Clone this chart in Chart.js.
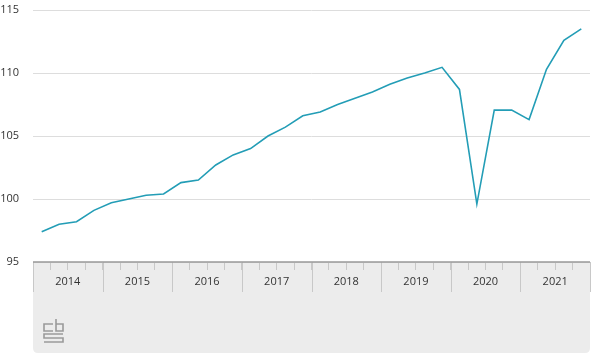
<!DOCTYPE html>
<html>
<head>
<meta charset="utf-8">
<script src="https://cdn.jsdelivr.net/npm/chart.js@4/dist/chart.umd.min.js"></script>
<style>
html,body{margin:0;padding:0;background:#fff;}
#wrap{width:600px;height:362px;position:relative;}
</style>
</head>
<body>
<div id="wrap"><canvas id="c" width="600" height="362"></canvas></div>
<script>
const years = ['2014','2015','2016','2017','2018','2019','2020','2021'];
const quarters = ['1e kwartaal','2e kwartaal','3e kwartaal','4e kwartaal'];
const values = [
  97.4, 98.0, 98.2, 99.1,
  99.7, 100.0, 100.3, 100.4,
  101.3, 101.5, 102.7, 103.5,
  104.0, 105.0, 105.7, 106.6,
  106.9, 107.5, 108.0, 108.5,
  109.1, 109.6, 110.0, 110.45,
  108.7, 99.6, 107.05, 107.05,
  106.3, 110.3, 112.6, 113.5
];
const yTicks = [95, 100, 105, 110, 115];

const labels = [];
years.forEach(y => quarters.forEach(q => labels.push(y + ' ' + q)));

const bgPlugin = {
  id: 'bg',
  beforeDraw(chart) {
    const {ctx, chartArea} = chart;
    const x0 = chartArea.left, x1 = chartArea.right, y0 = chartArea.bottom, y1 = 353, r = 5;
    ctx.save();
    ctx.fillStyle = '#ececec';
    ctx.beginPath();
    ctx.moveTo(x0, y0);
    ctx.lineTo(x1, y0);
    ctx.lineTo(x1, y1 - r);
    ctx.quadraticCurveTo(x1, y1, x1 - r, y1);
    ctx.lineTo(x0 + r, y1);
    ctx.quadraticCurveTo(x0, y1, x0, y1 - r);
    ctx.closePath();
    ctx.fill();
    ctx.restore();
  },
  afterDraw(chart) {
    const {ctx, chartArea} = chart;
    const xs = chart.scales.x;
    const n = labels.length;
    const step = (chartArea.right - chartArea.left) / n;
    ctx.save();
    ctx.strokeStyle = '#c8c8c8';
    ctx.lineWidth = 1;
    for (let i = 0; i <= n; i += 4) {
      const px = Math.round((i < n ? xs.getPixelForValue(i) : xs.getPixelForValue(n - 1) + step) - step / 2) + 0.5;
      ctx.beginPath();
      ctx.moveTo(px, chartArea.bottom);
      ctx.lineTo(px, chartArea.bottom + 30);
      ctx.stroke();
    }
    ctx.strokeStyle = '#999';
    ctx.lineWidth = 1.5;
    ctx.beginPath();
    ctx.moveTo(chartArea.left, chartArea.bottom);
    ctx.lineTo(chartArea.right, chartArea.bottom);
    ctx.stroke();
    // cbs logo
    ctx.strokeStyle = '#9a9a9a';
    ctx.lineWidth = 1.6;
    const lx = 44, ly = 319;
    ctx.beginPath();
    ctx.moveTo(lx + 9, ly + 5); ctx.lineTo(lx, ly + 5); ctx.lineTo(lx, ly + 12); ctx.lineTo(lx + 9, ly + 12);
    ctx.moveTo(lx + 12, ly); ctx.lineTo(lx + 12, ly + 12); ctx.lineTo(lx + 19, ly + 12); ctx.lineTo(lx + 19, ly + 5); ctx.lineTo(lx + 12, ly + 5);
    ctx.moveTo(lx + 19, ly + 15); ctx.lineTo(lx, ly + 15); ctx.lineTo(lx, ly + 19); ctx.lineTo(lx + 19, ly + 19); ctx.lineTo(lx + 19, ly + 23); ctx.lineTo(lx, ly + 23);
    ctx.stroke();
    ctx.restore();
  }
};

new Chart(document.getElementById('c'), {
  type: 'line',
  data: {
    labels: labels,
    datasets: [{
      data: values,
      borderColor: '#239db6',
      borderWidth: 1.6,
      pointRadius: 0,
      tension: 0,
      fill: false
    }]
  },
  options: {
    responsive: false,
    animation: false,
    layout: {padding: {top: 10, right: 10, left: 0, bottom: 0}},
    plugins: {legend: {display: false}, tooltip: {enabled: false}},
    scales: {
      x: {
        offset: true,
        afterFit(scale) { scale.height = 100; scale.paddingTop = 0; scale.paddingBottom = 0; },
        grid: {
          offset: true,
          drawOnChartArea: false,
          drawTicks: true,
          tickLength: 8,
          tickColor: '#c8c8c8',
          color: '#c8c8c8'
        },
        border: {display: false},
        ticks: {
          autoSkip: false,
          maxRotation: 0,
          minRotation: 0,
          padding: 5,
          labelOffset: 8.7,
          color: '#333',
          font: {family: 'Open Sans', size: 11},
          callback: (v, i) => (i % 4 === 1 ? years[Math.floor(i / 4)] : '')
        }
      },
      y: {
        min: 95,
        max: 115,
        afterFit(scale) { scale.width = 33; scale.paddingTop = 0; scale.paddingBottom = 0; },
        afterBuildTicks(scale) { scale.ticks = yTicks.map(v => ({value: v})); },
        grid: {color: '#dddddd', lineWidth: 1, drawTicks: false},
        border: {display: false},
        ticks: {
          padding: 14,
          color: '#333',
          font: {family: 'Open Sans', size: 11}
        }
      }
    }
  },
  plugins: [bgPlugin]
});
</script>
</body>
</html>
